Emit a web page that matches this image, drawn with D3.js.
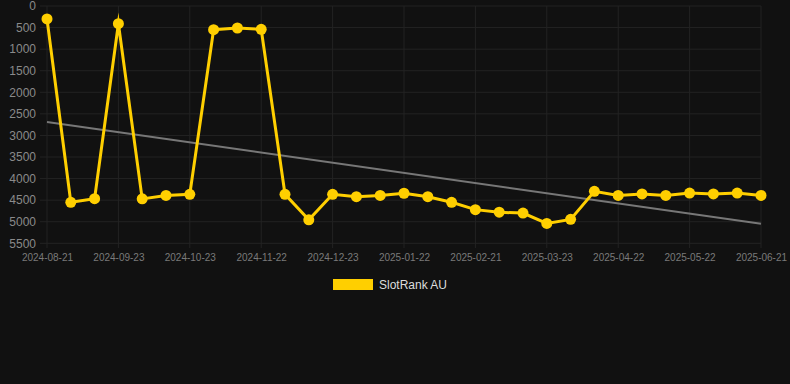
<!DOCTYPE html>
<html>
<head>
<meta charset="utf-8">
<script src="https://cdn.jsdelivr.net/npm/d3@7"></script>
<style>
  html, body { margin: 0; padding: 0; background: #111111; }
  svg { display: block; font-family: "Liberation Sans", Arial, sans-serif; }
</style>
</head>
<body>
<svg id="chart" width="790" height="384"></svg>
<script>
var dates = ["2024-08-21", "2024-09-01", "2024-09-12", "2024-09-23", "2024-10-03", "2024-10-13",
  "2024-10-23", "2024-11-02", "2024-11-12", "2024-11-22", "2024-12-02", "2024-12-12",
  "2024-12-23", "2025-01-02", "2025-01-12", "2025-01-22", "2025-02-01", "2025-02-11",
  "2025-02-21", "2025-03-03", "2025-03-13", "2025-03-23", "2025-04-02", "2025-04-12",
  "2025-04-22", "2025-05-02", "2025-05-12", "2025-05-22", "2025-06-01", "2025-06-11", "2025-06-21"]
var ranks = [300, 4550, 4465, 410, 4470, 4390, 4365, 550, 510, 540, 4365, 4955, 4365, 4420, 4390,
  4340, 4420, 4550, 4720, 4780, 4800, 5040, 4945, 4295, 4390, 4355, 4390, 4335, 4355, 4335, 4390]
var trend = [2690, 5045]
var yTicks = [0, 500, 1000, 1500, 2000, 2500, 3000, 3500, 4000, 4500, 5000, 5500]
var seriesName = "SlotRank AU"

var yellow = "#ffcf00"
var svg = d3.select("#chart")

var x = d3.scalePoint().domain(dates).range([47, 761])
var y = d3.scaleLinear().domain([0, 5500]).range([6, 243.3])
var shownDates = dates.filter((d, i) => i % 3 == 0)

// grid
svg.append("g")
  .selectAll("line")
  .data(yTicks)
  .enter()
  .append("line")
    .attr("x1", 40).attr("x2", 761)
    .attr("y1", d => y(d)).attr("y2", d => y(d))
    .attr("stroke", "#232323")
svg.append("g")
  .selectAll("line")
  .data(shownDates)
  .enter()
  .append("line")
    .attr("x1", d => x(d)).attr("x2", d => x(d))
    .attr("y1", 6).attr("y2", 248)
    .attr("stroke", "#232323")

// axes
var yAxis = svg.append("g")
  .attr("transform", "translate(40,0)")
  .call(d3.axisLeft(y).tickValues(yTicks).tickFormat(d3.format("d")).tickSize(0).tickPadding(4))
yAxis.select(".domain").remove()
yAxis.selectAll("text")
  .attr("fill", "#8a8a8a")
  .style("font-size", "12px")
  .style("font-family", "Liberation Sans, Arial, sans-serif")

var xAxis = svg.append("g")
  .attr("transform", "translate(0,250)")
  .call(d3.axisBottom(x).tickValues(shownDates).tickSize(0).tickPadding(4))
xAxis.select(".domain").remove()
xAxis.selectAll("text")
  .attr("fill", "#7a7a7a")
  .style("font-size", "10px")
  .style("font-family", "Liberation Sans, Arial, sans-serif")

// trend line
svg.append("line")
  .attr("x1", x(dates[0])).attr("y1", y(trend[0]))
  .attr("x2", x(dates[dates.length - 1])).attr("y2", y(trend[1]))
  .attr("stroke", "#777777")
  .attr("stroke-width", 2)

// series
var line = d3.line()
  .x((d, i) => x(dates[i]))
  .y(d => y(d))

svg.append("path")
  .datum(ranks)
  .attr("d", line)
  .attr("fill", "none")
  .attr("stroke", yellow)
  .attr("stroke-width", 3)
  .attr("stroke-linejoin", "miter")
  .attr("stroke-miterlimit", 10)

svg.append("g")
  .selectAll("circle")
  .data(ranks)
  .enter()
  .append("circle")
    .attr("cx", (d, i) => x(dates[i]))
    .attr("cy", d => y(d))
    .attr("r", 5.5)
    .attr("fill", yellow)

// legend
svg.append("rect")
  .attr("x", 333).attr("y", 279)
  .attr("width", 40).attr("height", 11)
  .attr("fill", yellow)
svg.append("text")
  .attr("x", 379).attr("y", 289)
  .attr("fill", "#dddddd")
  .style("font-size", "12px")
  .text(seriesName)
</script>
</body>
</html>
